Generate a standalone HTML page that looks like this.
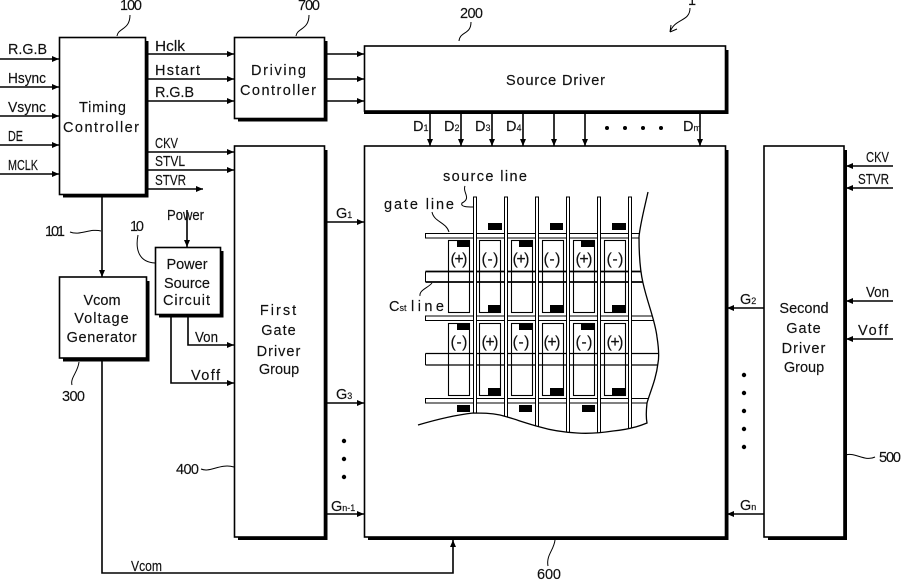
<!DOCTYPE html>
<html><head><meta charset="utf-8"><style>
html,body{margin:0;padding:0;background:#fff}
svg{display:block}
text{font-family:"Liberation Sans",sans-serif;font-size:14.5px;fill:#111;stroke:#111;stroke-width:.15}
.c{text-anchor:middle}
.s{font-size:9px}
.m{font-size:16px}
</style></head><body>
<svg width="902" height="580" viewBox="0 0 902 580" xmlns="http://www.w3.org/2000/svg">
<defs>
<marker id="a" markerUnits="userSpaceOnUse" markerWidth="8" markerHeight="7" refX="7" refY="3.500" orient="auto"><path d="M0 .5L7 3.500L0 6.500z" fill="#000"/></marker>
<clipPath id="p"><path d="M400 190H648C644 210 640 225 639 237C639 255 640 270 643 283C648 305 655 320 657 337C659 350 659 358 658 363C656 380 650 392 647 403C646 412 646 418 647 423C635 428 625 430 613 431C600 433 590 434 577 433C560 432 550 430 540 427C525 423 512 418 500 415C490 413 482 413 473 413C455 415 435 420 418 425L400 425Z"/></clipPath>
</defs>

<!-- blocks -->
<g fill="#fff" stroke="#000" stroke-width="1.600">
<rect x="59.500" y="37.500" width="86" height="157"/>
<rect x="234.500" y="37.500" width="90" height="81"/>
<rect x="364.500" y="46" width="361" height="65"/>
<rect x="234.500" y="146" width="90" height="391"/>
<rect x="364.500" y="146" width="361" height="391"/>
<rect x="764" y="146" width="80" height="391"/>
<rect x="59.500" y="277" width="87" height="81"/>
<rect x="155.500" y="247.500" width="65" height="67"/>
</g>
<!-- shadows -->
<g fill="none" stroke="#000" stroke-width="3">
<path d="M147 41V196H63"/>
<path d="M326 41V120H238"/>
<path d="M727 50V112.500H364"/>
<path d="M326 150V538.500H238"/>
<path d="M727 150V538.500H368"/>
<path d="M845.500 150V538.500H768"/>
<path d="M148 281V360H63"/>
<path d="M222 251V316H159"/>
</g>

<!-- connectors -->
<g fill="none" stroke="#000" stroke-width="1.600" marker-end="url(#a)">
<path d="M0 59H59"/><path d="M0 87H59"/><path d="M0 116H59"/><path d="M0 145H59"/><path d="M0 174H59"/>
<path d="M147 54H234"/><path d="M147 79H234"/><path d="M147 101H234"/>
<path d="M327 54H364"/><path d="M327 79H364"/><path d="M327 101H364"/>
<path d="M147 152H234"/><path d="M147 170H234"/><path d="M147 189H203"/>
<path d="M430 112V146"/><path d="M461 112V146"/><path d="M492 112V146"/><path d="M523 112V146"/><path d="M554 112V146"/><path d="M585 112V146"/><path d="M700 112V146"/>
<path d="M327 222H364"/><path d="M327 403H364"/><path d="M327 514H364"/>
<path d="M764 308H727"/><path d="M764 514H727"/>
<path d="M893 166H846"/><path d="M893 188H846"/><path d="M893 301H846"/><path d="M893 339H846"/>
<path d="M102 197V277"/><path d="M187 210V247"/>
<path d="M188 316V345H234"/><path d="M171 316V383H234"/>
<path d="M102 360V573H453V540"/>
</g>

<!-- dots -->
<g fill="#000">
<circle cx="607" cy="128" r="2"/><circle cx="625" cy="128" r="2"/><circle cx="643" cy="128" r="2"/><circle cx="661" cy="128" r="2"/>
<circle cx="344" cy="441" r="2.200"/><circle cx="344" cy="459" r="2.200"/><circle cx="344" cy="477" r="2.200"/>
<circle cx="744" cy="375" r="2.200"/><circle cx="744" cy="393" r="2.200"/><circle cx="744" cy="411" r="2.200"/><circle cx="744" cy="429" r="2.200"/><circle cx="744" cy="447" r="2.200"/>
</g>

<!-- pixel array -->
<g clip-path="url(#p)">
<g fill="#fff" stroke="#000" stroke-width="1.100">
<rect x="448.500" y="240.500" width="21" height="72"/><rect x="479.500" y="240.500" width="21" height="72"/><rect x="511.500" y="240.500" width="21" height="72"/><rect x="542.500" y="240.500" width="21" height="72"/><rect x="573.500" y="240.500" width="21" height="72"/><rect x="604.500" y="240.500" width="21" height="72"/>
<rect x="448.500" y="323.500" width="21" height="72"/><rect x="479.500" y="323.500" width="21" height="72"/><rect x="511.500" y="323.500" width="21" height="72"/><rect x="542.500" y="323.500" width="21" height="72"/><rect x="573.500" y="323.500" width="21" height="72"/><rect x="604.500" y="323.500" width="21" height="72"/>
</g>
<g fill="#000">
<rect x="488" y="223" width="14" height="7"/><rect x="550" y="223" width="13" height="7"/><rect x="612" y="223" width="14" height="7"/>
<rect x="457" y="240" width="13" height="7"/><rect x="519" y="240" width="13" height="7"/><rect x="581" y="240" width="13" height="7"/>
<rect x="488" y="305" width="13" height="7"/><rect x="550" y="305" width="13" height="7"/><rect x="612" y="305" width="13" height="7"/>
<rect x="457" y="323" width="13" height="7"/><rect x="519" y="323" width="13" height="7"/><rect x="581" y="323" width="13" height="7"/>
<rect x="488" y="388" width="13" height="7"/><rect x="550" y="388" width="13" height="7"/><rect x="612" y="388" width="13" height="7"/>
<rect x="457" y="405" width="13" height="7"/><rect x="519" y="405" width="13" height="7"/><rect x="582" y="405" width="13" height="7"/>
</g>
<g fill="#fff" stroke="#000" stroke-width="1">
<rect x="425.500" y="233.500" width="240" height="4.500"/>
<rect x="425.500" y="316" width="240" height="4.500"/>
<rect x="425.500" y="398.500" width="240" height="4.500"/>
</g>
<g fill="none" stroke="#000">
<path d="M425.500 271.500H665M425.500 282H665" stroke-width="1.800"/><path d="M425.500 271.500V282" stroke-width="1"/>
<path d="M425.500 353.500H665M425.500 365H665" stroke-width="1.300"/><path d="M425.500 353.500V365" stroke-width="1"/>
</g>
<g fill="#fff" stroke="#000" stroke-width="1">
<rect x="473.500" y="197" width="3" height="240"/><rect x="504.500" y="197" width="3" height="240"/><rect x="535.500" y="197" width="3" height="240"/><rect x="566.500" y="197" width="3" height="240"/><rect x="597.500" y="197" width="3" height="240"/><rect x="628.500" y="197" width="3" height="240"/>
</g>
</g>
<path d="M648 192C644 210 640 225 639 237C639 255 640 270 643 283C648 305 655 320 657 337C659 350 659 358 658 363C656 380 650 392 647 403C646 412 646 418 647 423C635 428 625 430 613 431C600 433 590 434 577 433C560 432 550 430 540 427C525 423 512 418 500 415C490 413 482 413 473 413C455 415 435 420 418 425" fill="none" stroke="#000" stroke-width="1.300"/>

<!-- leaders -->
<g fill="none" stroke="#000" stroke-width="1">
<path d="M117 36C118 28 130 30 130 15"/>
<path d="M296 36C297 28 309 30 309 15"/>
<path d="M459 41C460 31 471 35 471 22"/>
<path d="M690 8C690 22 675 18 670 32M670 32L671 25M670 32L677 29"/>
<path d="M70 232C80 236 90 228 101 231"/>
<path d="M138 235C136 245 136 262 155 263"/>
<path d="M79 362C78 372 70 378 72 385"/>
<path d="M201 469C210 473 220 463 234 467"/>
<path d="M846 455C855 452 865 462 875 457"/>
<path d="M555 540C554 550 546 555 548 566"/>
<path d="M465 186C462 192 472 198 462 203C460 207 468 207 473 207"/>
<path d="M432 212C434 222 446 222 449 232"/>
<path d="M432 283C428 288 419 290 420 296"/>
</g>

<!-- labels -->
<text x="8" y="54" textLength="39" lengthAdjust="spacingAndGlyphs">R.G.B</text>
<text x="8" y="83" textLength="38" lengthAdjust="spacingAndGlyphs">Hsync</text>
<text x="8" y="112" textLength="38" lengthAdjust="spacingAndGlyphs">Vsync</text>
<text x="8" y="141" textLength="15" lengthAdjust="spacingAndGlyphs">DE</text>
<text x="8" y="170" textLength="30" lengthAdjust="spacingAndGlyphs">MCLK</text>
<text x="120" y="10" textLength="22">100</text>
<text x="298" y="10" textLength="22">700</text>
<text x="460" y="18" textLength="23">200</text>
<text x="688" y="5">1</text>
<text x="155" y="51" textLength="30" lengthAdjust="spacingAndGlyphs">Hclk</text>
<text x="155" y="75" textLength="45">Hstart</text>
<text x="155" y="97" textLength="39">R.G.B</text>
<text x="155" y="148" textLength="23" lengthAdjust="spacingAndGlyphs">CKV</text>
<text x="155" y="166" textLength="30" lengthAdjust="spacingAndGlyphs">STVL</text>
<text x="155" y="185" textLength="31" lengthAdjust="spacingAndGlyphs">STVR</text>
<text x="79" y="112" textLength="47">Timing</text>
<text x="63" y="132" textLength="76">Controller</text>
<text x="251" y="75" textLength="55">Driving</text>
<text x="240" y="95" textLength="76">Controller</text>
<text x="506" y="85" textLength="99">Source Driver</text>
<text x="413" y="131">D<tspan class="s">1</tspan></text>
<text x="444" y="131">D<tspan class="s">2</tspan></text>
<text x="475" y="131">D<tspan class="s">3</tspan></text>
<text x="506" y="131">D<tspan class="s">4</tspan></text>
<text x="683" y="131">D<tspan class="s">m</tspan></text>
<text x="336" y="218">G<tspan class="s">1</tspan></text>
<text x="336" y="399">G<tspan class="s">3</tspan></text>
<text x="331" y="511">G<tspan class="s">n-1</tspan></text>
<text x="740" y="304">G<tspan class="s">2</tspan></text>
<text x="740" y="510">G<tspan class="s">n</tspan></text>
<text x="866" y="162" textLength="23" lengthAdjust="spacingAndGlyphs">CKV</text>
<text x="858" y="184" textLength="31" lengthAdjust="spacingAndGlyphs">STVR</text>
<text x="866" y="297" textLength="23" lengthAdjust="spacingAndGlyphs">Von</text>
<text x="858" y="335" textLength="30">Voff</text>
<text x="804" y="313" class="c">Second</text>
<text x="804" y="333" class="c" letter-spacing="1">Gate</text>
<text x="804" y="353" class="c" letter-spacing="1">Driver</text>
<text x="804" y="372" class="c">Group</text>
<text x="279" y="315" class="c" letter-spacing="2">First</text>
<text x="279" y="335" class="c" letter-spacing="1">Gate</text>
<text x="279" y="356" class="c" letter-spacing="1">Driver</text>
<text x="279" y="374" class="c">Group</text>
<text x="102" y="305" class="c">Vcom</text>
<text x="102" y="323" class="c" letter-spacing="1">Voltage</text>
<text x="102" y="342" class="c" letter-spacing=".6">Generator</text>
<text x="187" y="269" class="c">Power</text>
<text x="187" y="288" class="c">Source</text>
<text x="187" y="305" class="c" letter-spacing="1">Circuit</text>
<text x="167" y="220" textLength="37" lengthAdjust="spacingAndGlyphs">Power</text>
<text x="195" y="342" textLength="23" lengthAdjust="spacingAndGlyphs">Von</text>
<text x="191" y="380" textLength="29">Voff</text>
<text x="45" y="236" textLength="20">101</text>
<text x="130" y="231" textLength="14">10</text>
<text x="62" y="401" textLength="23">300</text>
<text x="176" y="474" textLength="23">400</text>
<text x="879" y="462" textLength="22">500</text>
<text x="537" y="579" textLength="24">600</text>
<text x="131" y="571" textLength="31" lengthAdjust="spacingAndGlyphs">Vcom</text>
<text x="443" y="181" textLength="84">source line</text>
<text x="384" y="209" textLength="70">gate line</text>
<text x="389" y="311">C<tspan class="s">st</tspan></text>
<text x="411" y="311" textLength="33">line</text>
<text x="459" y="264" class="c m" textLength="17">(+)</text><text x="490" y="264" class="c m" textLength="17">(-)</text><text x="521" y="264" class="c m" textLength="17">(+)</text><text x="552" y="264" class="c m" textLength="17">(-)</text><text x="584" y="264" class="c m" textLength="17">(+)</text><text x="615" y="264" class="c m" textLength="17">(-)</text>
<text x="459" y="347" class="c m" textLength="17">(-)</text><text x="490" y="347" class="c m" textLength="17">(+)</text><text x="521" y="347" class="c m" textLength="17">(-)</text><text x="552" y="347" class="c m" textLength="17">(+)</text><text x="584" y="347" class="c m" textLength="17">(-)</text><text x="615" y="347" class="c m" textLength="17">(+)</text>
</svg>
</body></html>
